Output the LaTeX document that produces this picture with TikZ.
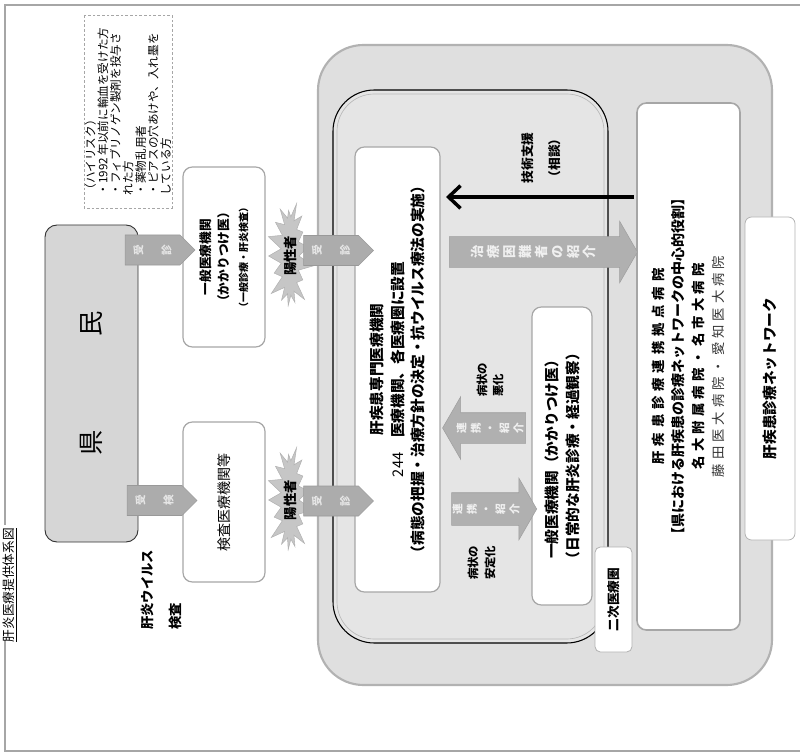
\documentclass[tikz,border=0pt]{standalone}
\usepackage{fontspec}
\setmainfont{Noto Sans CJK JP}
\usetikzlibrary{shapes.symbols,shapes.arrows,arrows.meta}
\begin{document}
\begin{tikzpicture}[x=0.75pt,y=-0.75pt,
  rbox/.style={rotate=90, draw=gray!70, line width=0.9pt, fill=white, rounded corners=7pt, align=center, inner sep=0pt},
  badge/.style={signal, signal to=east, fill=gray!65, draw=gray!80, inner xsep=20.6pt, inner ysep=11.25pt},
  badgetext/.style={rotate=90, align=center, inner sep=0pt, text=gray!20, font=\bfseries\fontsize{8}{21}\selectfont},
  burst/.style={rotate=90, starburst, starburst point height=13pt, fill=gray!45, draw=gray!60, line width=0.4pt, font=\bfseries\fontsize{10}{11}\selectfont, inner sep=0pt},
  barrow/.style={single arrow, fill=gray!62, draw=gray!75, single arrow tip angle=120, inner xsep=0pt},
  arrowtext/.style={rotate=90, align=center, inner sep=0pt, text=gray!12},
  region/.style={rotate=90, inner sep=0pt},
  lbl/.style={rotate=90, align=left, inner sep=0pt}
]
\useasboundingbox (0,0) rectangle (800,756);
% frame
\draw[gray!70, line width=0.9pt] (5,525) -- (5,5) -- (800,5);
\draw[gray!70, line width=0.9pt] (5,640) -- (5,751) -- (800,751);
\node[rotate=90, inner sep=1pt, font=\fontsize{9.5}{10}\selectfont] (title) at (10,585) {\underline{肝炎医療提供体系図}};

% note
\node[rotate=90, draw=gray!70, dash pattern=on 2pt off 1.5pt, line width=0.6pt, minimum width=144.75pt, minimum height=66pt, align=left, inner sep=0pt, font=\fontsize{8.7}{9.4}\selectfont] (note) at (128,111.5)
 {（ハイリスク）\\・1992 年以前に輸血を受けた方\\・フィブリノゲン製剤を投与さ\\れた方\\・薬物乱用者\\・ピアスの穴あけや、入れ墨を\\している方};

% kenmin
\node[region, draw=black!80, line width=0.7pt, fill=gray!32, rounded corners=9pt, minimum width=237.75pt, minimum height=69.75pt, font=\fontsize{19}{20}\selectfont] (kenmin) at (91.5,383.5) {県\hspace{70pt}民};

% regions
\node[region, draw=gray!60, line width=1.6pt, fill=gray!25, rounded corners=34pt, minimum width=480pt, minimum height=340.5pt] (net) at (545,365) {};
\node[region, draw=black, line width=0.8pt, fill=gray!20, rounded corners=31pt, minimum width=414.75pt, minimum height=206.25pt] (niji) at (470.5,366.5) {};
\node[region, draw=gray!55, line width=0.5pt, rounded corners=28pt, minimum width=408.75pt, minimum height=200.25pt] (nijiin) at (470.5,366.5) {};

\node[rbox, minimum width=333.75pt, minimum height=63.75pt, font=\bfseries\fontsize{11}{15.4}\selectfont] (senmon) at (397.5,369.5)
 {肝疾患専門医療機関\\{\mdseries 244}　医療機関、各医療圏に設置\\（病態の把握・治療方針の決定・抗ウイルス療法の実施）};
\node[rbox, minimum width=223.5pt, minimum height=45pt, font=\bfseries\fontsize{11}{15.75}\selectfont] (gp2) at (562,456)
 {一般医療機関（かかりつけ医）\\（日常的な肝炎診療・経過観察）};
\node[rbox, draw=gray!60, line width=0.6pt, rounded corners=4pt, minimum width=78.75pt, minimum height=27.75pt, font=\bfseries\fontsize{9.5}{11}\selectfont] (nijil) at (613.5,599.5) {二次医療圏};
\node[rbox, line width=1.2pt, minimum width=395.25pt, minimum height=77.25pt, font=\bfseries\fontsize{10}{15}\selectfont] (kyoten) at (688.5,366.5)
 {\makebox[147pt][s]{肝 疾 患 診 療 連 携 拠 点 病 院}\\
  {\fontsize{10.5}{15}\selectfont 【県における肝疾患の診療ネットワークの中心的役割】}\\
  \makebox[154.5pt][s]{名 大 附 属 病 院 ・ 名 市 大 病 院}\\
  {\mdseries\color{gray!40!black}\makebox[166pt][s]{藤 田 医 大 病 院 ・ 愛 知 医 大 病 院}}};
\node[rbox, draw=gray!60, line width=0.6pt, rounded corners=5pt, minimum width=242.25pt, minimum height=37.5pt, font=\bfseries\fontsize{11}{13}\selectfont] (netl) at (770,378.5) {肝疾患診療ネットワーク};

% left boxes
\node[rbox, minimum width=135pt, minimum height=61.5pt, font=\bfseries\fontsize{9.5}{13.9}\selectfont] (gp1) at (224,257)
 {一般医療機関\\（かかりつけ医）\\{\fontsize{7.5}{13.9}\selectfont （一般診療・肝炎検査）}};
\node[rbox, minimum width=120pt, minimum height=61.5pt, font=\fontsize{10.5}{12}\selectfont] (kensa) at (224,502) {検査医療機関等};
\node[lbl, anchor=west, font=\bfseries\fontsize{10}{12}\selectfont] (vlabel) at (161,630) {肝炎ウイルス\\[9pt]検査};

% bursts
\node[burst, minimum width=85pt, minimum height=34pt] (s1) at (290,256) {陽性者};
\node[burst, minimum width=85pt, minimum height=34pt] (s2) at (290,500) {陽性者};

% badges
\node[badge] (b1) at (152.5,250) {};
\node[badgetext] (b1t) at (b1) {受\\診};
\node[badge] (b2) at (154.5,500.5) {};
\node[badgetext] (b2t) at (b2) {受\\検};
\node[badge] (b3) at (331,250.5) {};
\node[badgetext] (b3t) at (b3) {受\\診};
\node[badge] (b4) at (331,501) {};
\node[badgetext] (b4t) at (b4) {受\\診};

% block arrows
\node[barrow, shape border rotate=0, minimum height=141pt, inner ysep=11.25pt, single arrow head extend=11.6pt] (a1) at (539,252) {};
\node[arrowtext, font=\bfseries\fontsize{10}{12}\selectfont] (a1t) at (533,252) {治\\療\\困\\難\\者\\の\\紹\\介};
\node[barrow, shape border rotate=180, minimum height=62.25pt, inner ysep=11.25pt, single arrow head extend=12pt] (a2) at (488.5,428) {};
\node[arrowtext, font=\bfseries\fontsize{8}{10.7}\selectfont] (a2t) at (490,428) {連\\携\\・\\紹\\介};
\node[barrow, shape border rotate=0, minimum height=63.75pt, inner ysep=12pt, single arrow head extend=11pt] (a3) at (489.5,509) {};
\node[arrowtext, font=\bfseries\fontsize{8}{10.7}\selectfont] (a3t) at (486,509) {連\\携\\・\\紹\\介};

% technical support arrow
\coordinate (ts1) at (634,197);
\coordinate (ts2) at (446,197);
\draw[line width=2.6pt, -{Straight Barb[length=9pt,width=17pt]}] (ts1) -- (ts2);
\node[rotate=90, align=center, inner sep=0pt, font=\bfseries\fontsize{9.5}{14}\selectfont] (gijutsu) at (541,158) {技術支援\\[6pt]（相談）};

% state labels
\node[lbl, anchor=west, font=\bfseries\fontsize{8.5}{12}\selectfont] (akka) at (490,397) {病状の\\悪化};
\node[lbl, anchor=west, font=\bfseries\fontsize{8.5}{12.75}\selectfont] (antei) at (481.5,580) {病状の\\安定化};
\end{tikzpicture}
\end{document}
